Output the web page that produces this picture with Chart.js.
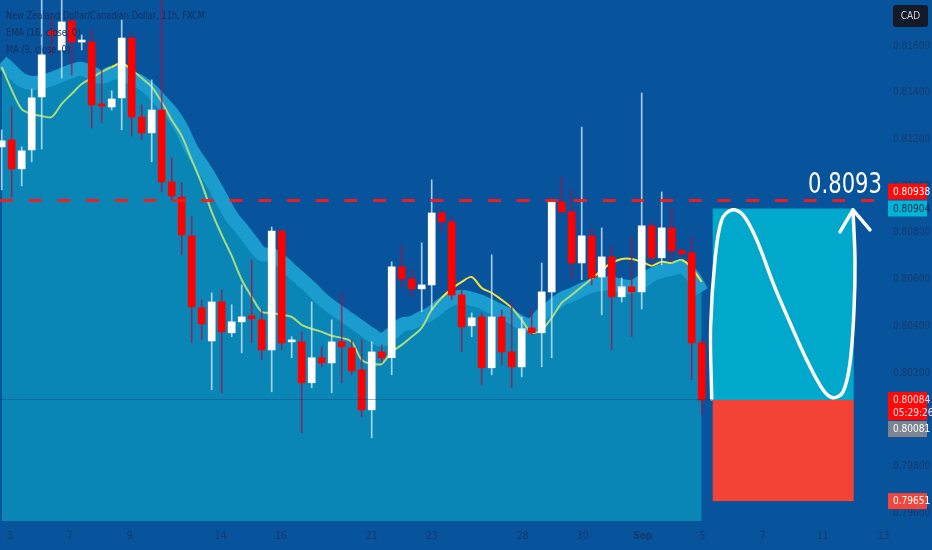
<!DOCTYPE html>
<html>
<head>
<meta charset="utf-8">
<script src="https://cdn.jsdelivr.net/npm/chart.js@4.4.1/dist/chart.umd.min.js"></script>
<style>
  html, body { margin: 0; padding: 0; background: #07539c; }
  canvas { display: block; }
</style>
</head>
<body>
<canvas id="fxChart" width="932" height="550"></canvas>
<script>
// NZD/CAD 11h candles, one entry per bar (index 0 = leftmost)
const opens = [
  0.81168, 0.81198, 0.81074, 0.81155, 0.81382, 0.81664, 0.81583, 0.81707, 0.81617, 0.81617,
  0.81348, 0.81339, 0.81378, 0.81634, 0.81296, 0.81228, 0.81326, 0.81018, 0.80953, 0.80787,
  0.80479, 0.80337, 0.80504, 0.80372, 0.80419, 0.80445, 0.80427, 0.80299, 0.80808, 0.80333,
  0.80333, 0.80158, 0.80265, 0.80243, 0.80333, 0.80307, 0.80213, 0.80042, 0.80290, 0.80265,
  0.80654, 0.80603, 0.80560, 0.80577, 0.80885, 0.80847, 0.80534, 0.80402, 0.80440, 0.80222,
  0.80440, 0.80290, 0.80226, 0.80393, 0.80372, 0.80547, 0.80932, 0.80890, 0.80671, 0.80787,
  0.80611, 0.80697, 0.80526, 0.80569, 0.80547, 0.80830, 0.80693, 0.80821, 0.80723, 0.80714,
  0.80329
];
const highs = [
  0.81241, 0.81339, 0.81168, 0.81416, 0.81820, 0.81720, 0.81797, 0.81720, 0.81647, 0.81669,
  0.81497, 0.81408, 0.81711, 0.81656, 0.81348, 0.81455, 0.81820, 0.81121, 0.81014, 0.80872,
  0.80513, 0.80543, 0.80556, 0.80492, 0.80577, 0.80684, 0.80470, 0.80825, 0.80813, 0.80355,
  0.80376, 0.80504, 0.80312, 0.80427, 0.80543, 0.80342, 0.80342, 0.80333, 0.80320, 0.80676,
  0.80748, 0.80641, 0.80757, 0.81027, 0.80898, 0.80868, 0.80556, 0.80457, 0.80457, 0.80706,
  0.80470, 0.80504, 0.80440, 0.80470, 0.80671, 0.80936, 0.81039, 0.80984, 0.81253, 0.80821,
  0.80821, 0.80748, 0.80607, 0.80783, 0.81399, 0.80843, 0.80975, 0.80907, 0.80735, 0.80783,
  0.80342
];
const lows = [
  0.80984, 0.80953, 0.81001, 0.81104, 0.81159, 0.81562, 0.81463, 0.81476, 0.81583, 0.81249,
  0.81271, 0.81326, 0.81241, 0.81215, 0.81198, 0.81104, 0.80975, 0.80941, 0.80706, 0.80329,
  0.80342, 0.80128, 0.80115, 0.80355, 0.80286, 0.80329, 0.80256, 0.80119, 0.80299, 0.80265,
  0.79944, 0.80136, 0.80226, 0.80115, 0.80158, 0.80192, 0.80012, 0.79922, 0.80243, 0.80192,
  0.80569, 0.80526, 0.80462, 0.80470, 0.80804, 0.80513, 0.80290, 0.80355, 0.80149, 0.80192,
  0.80235, 0.80136, 0.80183, 0.80363, 0.80226, 0.80265, 0.80881, 0.80607, 0.80599, 0.80577,
  0.80449, 0.80299, 0.80504, 0.80355, 0.80474, 0.80663, 0.80663, 0.80676, 0.80697, 0.80171,
  0.80021
];
const closes = [
  0.81194, 0.81074, 0.81151, 0.81378, 0.81562, 0.81647, 0.81703, 0.81617, 0.81617, 0.81348,
  0.81343, 0.81373, 0.81634, 0.81296, 0.81228, 0.81326, 0.81018, 0.80958, 0.80791, 0.80483,
  0.80410, 0.80504, 0.80376, 0.80419, 0.80440, 0.80432, 0.80299, 0.80808, 0.80329, 0.80333,
  0.80158, 0.80265, 0.80243, 0.80333, 0.80312, 0.80209, 0.80042, 0.80290, 0.80265, 0.80654,
  0.80603, 0.80560, 0.80577, 0.80885, 0.80847, 0.80534, 0.80397, 0.80436, 0.80222, 0.80440,
  0.80290, 0.80226, 0.80389, 0.80372, 0.80547, 0.80932, 0.80890, 0.80671, 0.80787, 0.80607,
  0.80697, 0.80526, 0.80569, 0.80547, 0.80830, 0.80693, 0.80821, 0.80723, 0.80710, 0.80329,
  0.80084
];

// indicators
const emaValues = [
  0.81510, 0.81412, 0.81330, 0.81309, 0.81300, 0.81296, 0.81352, 0.81395, 0.81437, 0.81463,
  0.81489, 0.81510, 0.81527, 0.81497, 0.81463, 0.81425, 0.81360, 0.81283, 0.81215, 0.81112,
  0.81010, 0.80890, 0.80791, 0.80701, 0.80599, 0.80526, 0.80462, 0.80457, 0.80449, 0.80440,
  0.80406, 0.80389, 0.80376, 0.80359, 0.80350, 0.80333, 0.80256, 0.80239, 0.80239, 0.80290,
  0.80320, 0.80355, 0.80393, 0.80470, 0.80522, 0.80560, 0.80590, 0.80611, 0.80564, 0.80543,
  0.80513, 0.80479, 0.80427, 0.80372, 0.80385, 0.80436, 0.80500, 0.80534, 0.80569, 0.80603,
  0.80641, 0.80671, 0.80688, 0.80688, 0.80676, 0.80659, 0.80676, 0.80671, 0.80684, 0.80650,
  0.80590
];
const maValues = [
  0.81532, 0.81493, 0.81455, 0.81442, 0.81446, 0.81459, 0.81476, 0.81493, 0.81502, 0.81485,
  0.81467, 0.81485, 0.81485, 0.81463, 0.81442, 0.81408, 0.81360, 0.81313, 0.81245, 0.81155,
  0.81091, 0.81022, 0.80945, 0.80868, 0.80817, 0.80761, 0.80710, 0.80706, 0.80676, 0.80637,
  0.80599, 0.80560, 0.80517, 0.80483, 0.80453, 0.80423, 0.80393, 0.80363, 0.80342, 0.80368,
  0.80406, 0.80415, 0.80436, 0.80457, 0.80492, 0.80517, 0.80526, 0.80517, 0.80504, 0.80483,
  0.80462, 0.80440, 0.80415, 0.80406, 0.80449, 0.80483, 0.80517, 0.80534, 0.80556, 0.80573,
  0.80582, 0.80582, 0.80573, 0.80569, 0.80590, 0.80620, 0.80637, 0.80646, 0.80654, 0.80620,
  0.80547
];

// axes
const xTickPos = [0.8, 6.8, 12.8, 21.9, 27.9, 37, 43, 52.1, 58.1, 64.1, 70.1, 76.1, 82.1, 88.2];
const xTickLabels = ['3', '7', '9', '14', '16', '21', '23', '28', '30', 'Sep', '5', '7', '11', '13'];
const yTickValues = [0.796, 0.798, 0.800, 0.802, 0.804, 0.806, 0.808, 0.810, 0.812, 0.814, 0.816];
const xMin = -0.17, xMax = 88.33;
const yMin = 0.79566, yMax = 0.81797;

// trade idea drawn on the right
const zoneStart = 71.1, zoneEnd = 85.2;
const targetPrice = 0.80904, entryPrice = 0.80084, stopPrice = 0.79651;
const levelPrice = 0.80938;
const targetText = '0.8093';
const pathX = [71.0, 70.9, 71.33, 72.0, 73.0, 74.13, 75.5, 77.13, 78.83, 80.5, 82.13, 83.13, 84.13, 84.83, 85.23, 85.33, 85.13];
const pathY = [0.80089, 0.80397, 0.80684, 0.80855, 0.80898, 0.80877, 0.80770, 0.80586, 0.80415, 0.80256, 0.80128, 0.80094, 0.80119, 0.80243, 0.80470, 0.80684, 0.80898];
const arrowX = [83.83, 85.13, 86.83];
const arrowY = [0.80804, 0.80898, 0.80813];

const legendLines = ['New Zealand Dollar/Canadian Dollar, 11h, FXCM', 'EMA (16, close, 0)', 'MA (9, close, 0)'];
const priceTags = [
  { price: 0.80904, lines: ['0.80904'], bg: '#00b4d6', fg: '#0b2a4a' },
  { price: 0.80938, lines: ['0.80938'], bg: '#ff0a0a', fg: '#ffffff' },
  { price: 0.80084, lines: ['0.80084', '05:29:26'], bg: '#ff0a0a', fg: '#ffdede' },
  { price: 0.80081, lines: ['0.80081'], bg: '#7d8490', fg: '#ffffff' },
  { price: 0.79651, lines: ['0.79651'], bg: '#f0473a', fg: '#ffffff' }
];

const FONT = "'Liberation Sans Narrow', 'DejaVu Sans Condensed', 'Liberation Sans', sans-serif";
const BG = '#07539c';
const AREA = '#0a86b6';
const BAND = '#1b9ccf';
const AXIS_TEXT = '#173a6c';
const YELLOW = '#f2e23a';
const GREEN = '#a9dc80';

Chart.defaults.font.family = FONT;

const idx = opens.map((_, i) => i);
const isUp = i => closes[i] >= opens[i];

// draw text squeezed horizontally to a given width (the source font is narrower)
function squeezedText(ctx, text, x, y, sx, align) {
  ctx.save();
  ctx.translate(x, y);
  ctx.scale(sx, 1);
  ctx.textAlign = align;
  ctx.fillText(text, 0, 0);
  ctx.restore();
}

const overlay = {
  id: 'overlay',
  beforeDraw(chart) {
    const ctx = chart.ctx;
    ctx.save();
    ctx.fillStyle = BG;
    ctx.fillRect(0, 0, chart.width, chart.height);
    ctx.restore();
  },
  beforeDatasetsDraw(chart) {
    const { ctx, scales: { x, y } } = chart;
    const x0 = x.getPixelForValue(zoneStart), x1 = x.getPixelForValue(zoneEnd);
    const yT = y.getPixelForValue(targetPrice), yE = y.getPixelForValue(entryPrice), yS = y.getPixelForValue(stopPrice);
    ctx.save();
    ctx.fillStyle = '#00a8cb';
    ctx.fillRect(x0, yT, x1 - x0, yE - yT);
    ctx.fillStyle = '#f44336';
    ctx.fillRect(x0, yE, x1 - x0, yS - yE);
    ctx.restore();
  },
  afterDatasetsDraw(chart) {
    const { ctx, chartArea: a, scales: { x, y } } = chart;
    ctx.save();
    // last price line
    const yp = Math.round(y.getPixelForValue(entryPrice)) - 0.5;
    ctx.strokeStyle = 'rgba(5,60,125,0.4)';
    ctx.lineWidth = 1;
    ctx.beginPath();
    ctx.moveTo(a.left, yp);
    ctx.lineTo(x.getPixelForValue(zoneStart), yp);
    ctx.stroke();
    // resistance level
    const yl = y.getPixelForValue(levelPrice);
    ctx.strokeStyle = 'rgba(255,25,25,0.92)';
    ctx.lineWidth = 3;
    ctx.setLineDash([13, 15.7]);
    ctx.beginPath();
    ctx.moveTo(a.left, yl);
    ctx.lineTo(a.right, yl);
    ctx.stroke();
    ctx.setLineDash([]);
    // target text
    ctx.fillStyle = '#ffffff';
    ctx.font = '29px ' + FONT;
    ctx.textBaseline = 'alphabetic';
    const sx = 74 / ctx.measureText(targetText).width;
    squeezedText(ctx, targetText, a.right - 3, yl - 8, sx, 'right');
    ctx.restore();
  },
  afterDraw(chart) {
    const { ctx, chartArea: a, scales: { y } } = chart;
    ctx.save();
    // legend
    ctx.fillStyle = '#142f5b';
    ctx.font = '11px ' + FONT;
    ctx.textBaseline = 'middle';
    const sx = 199 / ctx.measureText(legendLines[0]).width;
    legendLines.forEach((t, i) => squeezedText(ctx, t, 6, 16 + i * 17, sx, 'left'));

    // currency box
    ctx.fillStyle = '#141a27';
    ctx.beginPath();
    ctx.roundRect(893, 5, 35, 22, 3);
    ctx.fill();
    ctx.fillStyle = '#cfd3dc';
    ctx.font = '10px ' + FONT;
    ctx.textAlign = 'center';
    ctx.fillText('CAD', 910.5, 16.5);

    // price tags
    const placed = [];
    priceTags.forEach(tag => {
      const h = 16 + (tag.lines.length - 1) * 12;
      let top = y.getPixelForValue(tag.price) - 8;
      placed.forEach(p => {
        if (top < p.bottom && top + h > p.top) {
          top = tag.price > p.price ? p.top - h - 1 : p.bottom + 1;
        }
      });
      placed.push({ top, bottom: top + h, price: tag.price });
      ctx.fillStyle = tag.bg;
      ctx.fillRect(a.right + 3, top, 39, h);
      ctx.fillStyle = tag.fg;
      ctx.textAlign = 'left';
      ctx.textBaseline = 'middle';
      tag.lines.forEach((t, i) => ctx.fillText(t, a.right + 8, top + 8.5 + i * 13));
    });
    ctx.restore();
  }
};

new Chart(document.getElementById('fxChart'), {
  type: 'bar',
  data: {
    datasets: [
      {
        type: 'line',
        label: 'MA',
        data: idx.map(i => ({ x: i, y: maValues[i] })),
        borderColor: BAND,
        borderWidth: 14,
        backgroundColor: AREA,
        fill: 'start',
        tension: 0.4,
        pointRadius: 0,
        order: 10
      },
      {
        type: 'line',
        label: 'EMA',
        data: idx.map(i => ({ x: i, y: emaValues[i] })),
        borderWidth: 2,
        tension: 0.3,
        pointRadius: 0,
        fill: false,
        segment: {
          borderColor: c => {
            const ys = c.chart.scales.y;
            const top = (ys.getPixelForValue(maValues[c.p0DataIndex]) + ys.getPixelForValue(maValues[c.p1DataIndex])) / 2 - 7;
            return (c.p0.y + c.p1.y) / 2 < top ? YELLOW : GREEN;
          }
        },
        order: 8
      },
      {
        label: 'wicks',
        data: idx.map(i => ({ x: i, y: [lows[i], highs[i]] })),
        backgroundColor: idx.map(i => isUp(i) ? 'rgba(205,232,255,0.8)' : 'rgba(160,20,70,0.75)'),
        barThickness: 1,
        grouped: false,
        order: 6
      },
      {
        label: 'bodies',
        data: idx.map(i => ({ x: i, y: [opens[i], closes[i]] })),
        backgroundColor: idx.map(i => isUp(i) ? '#ffffff' : '#ff0000'),
        barThickness: 7,
        minBarLength: 2,
        grouped: false,
        order: 5
      },
      {
        type: 'line',
        label: 'path',
        data: pathX.map((v, i) => ({ x: v, y: pathY[i] })),
        borderColor: '#ffffff',
        borderWidth: 3.5,
        tension: 0.35,
        pointRadius: 0,
        fill: false,
        borderCapStyle: 'round',
        order: 1
      },
      {
        type: 'line',
        label: 'arrow',
        data: arrowX.map((v, i) => ({ x: v, y: arrowY[i] })),
        borderColor: '#ffffff',
        borderWidth: 3.5,
        tension: 0,
        pointRadius: 0,
        fill: false,
        borderCapStyle: 'round',
        borderJoinStyle: 'round',
        order: 1
      }
    ]
  },
  options: {
    responsive: false,
    animation: false,
    layout: { padding: 0 },
    plugins: { legend: { display: false }, tooltip: { enabled: false } },
    scales: {
      x: {
        type: 'linear',
        min: xMin,
        max: xMax,
        offset: false,
        grid: { display: false, drawTicks: false },
        border: { display: false },
        afterBuildTicks: s => { s.ticks = xTickPos.map(v => ({ value: v })); },
        afterFit: s => { s.height = 29; s.paddingLeft = 0; s.paddingRight = 0; },
        ticks: {
          autoSkip: false,
          maxRotation: 0,
          padding: 9,
          color: AXIS_TEXT,
          font: c => ({ family: FONT, size: 10, weight: xTickLabels[c.index] === 'Sep' ? 'bold' : 'normal' }),
          callback: (v, i) => xTickLabels[i]
        }
      },
      y: {
        type: 'linear',
        position: 'right',
        min: yMin,
        max: yMax,
        grid: { display: false, drawTicks: false },
        border: { display: false },
        afterBuildTicks: s => { s.ticks = yTickValues.map(v => ({ value: v })); },
        afterFit: s => { s.width = 47; s.paddingTop = 0; s.paddingBottom = 0; },
        ticks: {
          padding: 8,
          color: AXIS_TEXT,
          font: { family: FONT, size: 10 },
          callback: v => v.toFixed(5)
        }
      }
    }
  },
  plugins: [overlay]
});
</script>
</body>
</html>
